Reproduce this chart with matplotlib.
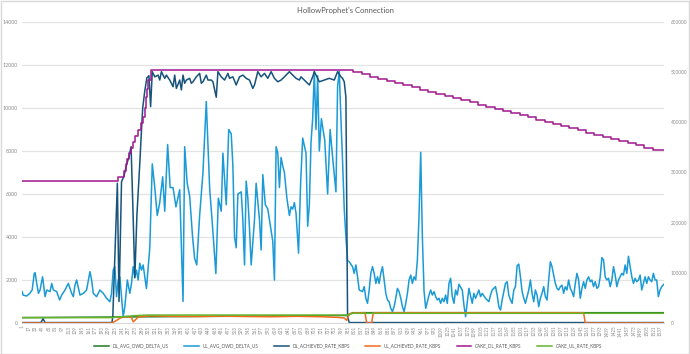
import numpy as np
import matplotlib.pyplot as plt
from matplotlib.patches import Rectangle

N = 1545  # number of samples (categories 1..N)

# ---- series data (index, value) ----
cake_dl_idx = [0, 231, 245, 250, 253, 257, 263, 267, 272, 278, 287, 291, 295, 299, 301, 303, 309,
               797, 817, 837, 857, 877, 897, 917, 937, 957, 977, 997, 1017, 1037, 1057, 1077, 1097,
               1117, 1137, 1157, 1177, 1197, 1217, 1237, 1257, 1277, 1297, 1317, 1337, 1357, 1377,
               1397, 1417, 1437, 1457, 1477, 1497, 1517, 1544]
cake_dl_val = [6600, 6800, 7050, 7400, 7650, 7900, 8150, 8400, 8700, 8970, 9300, 9600, 10000, 10500,
               10900, 11300, 11780,
               11660, 11560, 11460, 11360, 11260, 11160, 11060, 10960, 10860, 10760, 10660, 10560,
               10460, 10360, 10260, 10160, 10060, 9960, 9860, 9760, 9660, 9560, 9460, 9360, 9260,
               9160, 9060, 8960, 8860, 8760, 8660, 8560, 8460, 8360, 8260, 8160, 8060, 8060]

dl_rate_idx = [0, 45, 50, 55, 216, 218, 229, 233, 239, 245, 251, 257, 262, 267, 271, 276, 283, 287,
               290, 295, 300, 305, 309, 313, 319, 327, 331, 335, 343, 347, 355, 359, 363, 367, 371,
               379, 383, 387, 391, 395, 403, 407, 411, 419, 427, 431, 435, 443, 447, 455, 459, 467,
               471, 479, 487, 495, 499, 507, 515, 523, 531, 539, 547, 555, 559, 567, 575, 583, 591,
               599, 607, 615, 623, 631, 643, 651, 659, 667, 671, 683, 691, 699, 703, 715, 727, 739,
               751, 759, 767, 771, 775, 779, 783, 787, 1544]
dl_rate_val = [20, 20, 200, 20, 20, 300, 6500, 1000, 6570, 6840, 7350, 7730, 8200, 4940, 2100, 5000,
               7440, 8970, 10000, 10800, 11400, 11500, 10060, 11690, 11450, 11530, 11300, 11690,
               11380, 11530, 11300, 11150, 10990, 11530, 10910, 11300, 10840, 11530, 11150, 11300,
               11380, 11150, 11220, 11450, 11610, 11150, 11220, 11530, 11300, 11300, 11220, 10500,
               11690, 11450, 11300, 11610, 11380, 11450, 11070, 11450, 11530, 11380, 11300, 10910,
               11070, 11690, 11450, 11610, 11380, 11690, 11380, 11220, 11300, 11450, 11690, 11530,
               11380, 11300, 11450, 11220, 11070, 11450, 11690, 11220, 11300, 11380, 11300, 11690,
               11450, 11380, 11220, 10500, 300, 20, 20]

ul_owd_idx = [0, 2, 11, 18, 24, 29, 31, 35, 39, 43, 49, 55, 59, 67, 71, 75, 83, 90, 95, 103, 111,
              115, 119, 123, 127, 131, 139, 147, 155, 163, 167, 171, 179, 187, 195, 203, 211, 215,
              219, 223, 227, 231, 235, 243, 247, 253, 259, 263, 267, 271, 275, 279, 283, 287, 291,
              299, 307, 313, 319, 325, 331, 338, 343, 350, 356, 363, 370, 379, 387, 391, 397, 403,
              410, 415, 420, 427, 435, 443, 451, 458, 466, 472, 479, 483, 491, 497, 503, 507, 511,
              515, 519, 527, 531, 535, 539, 543, 547, 551, 559, 563, 571, 575, 579, 585, 591, 595,
              603, 607, 611, 615, 619, 623, 627, 631, 637, 643, 647, 651, 655, 659, 665, 670, 675,
              683, 687, 691, 695, 699, 703, 707, 711, 715, 720, 728, 735, 741, 748, 755, 759, 763,
              767, 771, 775, 779, 783, 787, 795, 799, 803, 807, 811, 819, 823, 827, 831, 835, 839,
              843, 847, 851, 855, 859, 863, 867, 871, 875, 879, 883, 887, 891, 895, 899, 903, 907,
              911, 915, 919, 923, 927, 931, 935, 939, 943, 947, 951, 955, 959, 963, 967, 971, 979,
              983, 987, 991, 995, 999, 1003, 1007, 1011, 1015, 1019, 1023, 1027, 1031, 1035, 1039,
              1043, 1047, 1051, 1059, 1063, 1067, 1075, 1083, 1087, 1091, 1099, 1103, 1107, 1115,
              1123, 1127, 1131, 1139, 1143, 1147, 1151, 1155, 1163, 1167, 1171, 1175, 1179, 1183,
              1187, 1191, 1195, 1199, 1203, 1207, 1211, 1215, 1219, 1223, 1227, 1231, 1235, 1239,
              1243, 1247, 1251, 1255, 1259, 1263, 1267, 1271, 1275, 1279, 1283, 1287, 1291, 1295,
              1299, 1303, 1307, 1311, 1315, 1319, 1323, 1327, 1331, 1335, 1339, 1343, 1347, 1351,
              1355, 1359, 1363, 1367, 1371, 1375, 1379, 1383, 1387, 1391, 1395, 1399, 1403, 1407,
              1411, 1415, 1419, 1423, 1427, 1431, 1435, 1439, 1443, 1447, 1451, 1455, 1459, 1463,
              1467, 1471, 1475, 1479, 1483, 1487, 1491, 1495, 1499, 1503, 1507, 1511, 1515, 1519,
              1523, 1527, 1531, 1535, 1539, 1544]
ul_owd_val = [1460, 1300, 1255, 1380, 1535, 2310, 2340, 1840, 1380, 1535, 2150, 1225, 1535, 1460,
              1840, 1535, 1460, 1070, 1300, 1535, 1840, 1610, 1380, 1225, 1760, 2000, 1300, 1380,
              1535, 2390, 2000, 1380, 1225, 1535, 1380, 1150, 990, 1380, 2460, 2620, 1225, 2000,
              2150, 290, 760, 2000, 1380, 1840, 2620, 2150, 2460, 2000, 2780, 2460, 2700, 1600,
              3500, 7400, 6300, 5000, 5600, 6800, 5200, 8300, 6300, 6300, 5400, 6200, 1000, 8200,
              6500, 5900, 4000, 3000, 2700, 5000, 7000, 10300, 6300, 4500, 2300, 5800, 5200, 7900,
              5500, 9000, 8800, 7300, 4000, 3500, 6000, 6100, 4800, 2700, 6600, 5800, 4400, 2700,
              4800, 6500, 4800, 3400, 6900, 5500, 5300, 4800, 3800, 2000, 8200, 7900, 6300, 7700,
              7300, 7000, 5800, 5000, 5400, 5300, 5600, 5100, 3250, 6500, 8600, 7900, 4500, 5500,
              8400, 9500, 11700, 9000, 11500, 8000, 9500, 8500, 6000, 9000, 7500, 6100, 11000,
              11700, 9500, 7500, 5300, 4000, 2900, 2850, 2620, 2310, 2700, 2150, 1535, 1460, 1690,
              1150, 915, 1535, 2310, 2620, 2310, 1840, 2150, 1840, 2310, 2620, 2000, 1380, 1070,
              990, 680, 530, 760, 1150, 1610, 1460, 1150, 760, 530, 915, 1380, 2000, 2230, 1840,
              2150, 2000, 2930, 5000, 7940, 4000, 1500, 680, 1300, 1535, 1300, 1460, 1225, 1070,
              1150, 915, 1150, 990, 1300, 915, 1840, 2080, 1225, 915, 1535, 1300, 1800, 1535, 840,
              295, 1610, 915, 1380, 1150, 1535, 1225, 1380, 1150, 990, 1300, 1535, 1690, 1300, 760,
              605, 1070, 1840, 1920, 1300, 1070, 915, 1535, 1690, 2660, 2740, 2150, 1460, 1150, 915,
              1225, 1535, 2000, 1380, 990, 1535, 1300, 760, 1150, 1380, 1690, 1225, 1070, 2000,
              2850, 2620, 2230, 1840, 1610, 1535, 1690, 1760, 1380, 1690, 1535, 2000, 1610, 1460,
              1225, 1840, 2310, 2000, 1150, 1610, 1920, 1610, 2000, 2150, 1920, 2000, 1690, 1920,
              1610, 1690, 2150, 3040, 2930, 2150, 2000, 2080, 1690, 2000, 2620, 2230, 1690, 2000,
              2150, 2310, 2230, 2700, 2310, 3100, 2620, 2150, 1840, 2080, 1920, 2000, 2230, 1535,
              1840, 2150, 1840, 2150, 2000, 1920, 2310, 2000, 2000, 1225, 1535, 1690, 1800]

ul_rate_idx = [0, 216, 227, 235, 243, 255, 263, 267, 271, 279, 291, 307, 360, 420, 480, 540, 600,
               660, 720, 760, 775, 781, 787, 800, 825, 829, 841, 845, 1351, 1355, 1544]
ul_rate_val = [0, 0, 120, 220, 280, 300, 250, 60, 120, 280, 300, 330, 310, 300, 320, 300, 290,
               310, 290, 260, 230, 120, 430, 470, 480, 0, 0, 480, 480, 0, 0]

cake_ul_idx = [0, 215, 240, 270, 300, 783, 795, 1544]
cake_ul_val = [250, 250, 290, 340, 370, 370, 450, 450]

dl_owd_idx = [0, 783, 795, 1490, 1544]
dl_owd_val = [250, 350, 480, 480, 480]

series_names = ['DL_AVG_OWD_DELTA_US', 'UL_AVG_OWD_DELTA_US', 'DL_ACHIEVED_RATE_KBPS',
                'UL_ACHIEVED_RATE_KBPS', 'CAKE_DL_RATE_KBPS', 'CAKE_UL_RATE_KBPS']
series_colors = ['#1e7b22', '#1a9ad6', '#17537a', '#f26b1d', '#a0188f', '#66b32e']

left_ticks = [0, 2000, 4000, 6000, 8000, 10000, 12000, 14000]
right_ticks = [0, 100000, 200000, 300000, 400000, 500000, 600000]
x_labels = [str(i + 1) for i in range(0, N, 16)]

plt.rcParams['font.family'] = ['Lato', 'DejaVu Sans']

fig = plt.figure(figsize=(6.9, 3.54), dpi=100)
fig.patches.append(Rectangle((0.001, 0.001), 0.998, 0.997, transform=fig.transFigure,
                             fill=False, edgecolor='#d9d9d9', linewidth=1.0))
ax = fig.add_axes([22 / 690, 1 - 323 / 354, (664 - 22) / 690, (323 - 22) / 354])
ax2 = ax.twinx()

ax.plot(dl_owd_idx, dl_owd_val, color=series_colors[0], lw=1.1, label=series_names[0])
ax.plot(ul_owd_idx, ul_owd_val, color=series_colors[1], lw=1.1, label=series_names[1])
ax.plot(dl_rate_idx, dl_rate_val, color=series_colors[2], lw=1.1, label=series_names[2])
ax.plot(ul_rate_idx, ul_rate_val, color=series_colors[3], lw=1.1, label=series_names[3])
ax.plot(cake_dl_idx, cake_dl_val, color=series_colors[4], lw=1.1, drawstyle='steps-post',
        label=series_names[4])
ax.plot(cake_ul_idx, cake_ul_val, color=series_colors[5], lw=1.1, label=series_names[5])

ax.set_xlim(-0.5, N - 0.5)
ax.set_ylim(0, 14000)
ax.set_yticks(left_ticks)
ax.set_yticklabels([str(v) for v in left_ticks])
ax.set_xticks(list(range(0, N, 16)))
ax.set_xticklabels(x_labels, rotation=90, fontsize=3.3, color='#8c8c8c')
ax.tick_params(axis='y', labelsize=3.8, colors='#8c8c8c', length=0, pad=3)
ax.tick_params(axis='x', length=0, pad=2)
ax.grid(axis='y', color='#e3e3e3', lw=0.9)
ax.set_axisbelow(True)
for s in ax.spines.values():
    s.set_visible(False)
ax.spines['bottom'].set_visible(True)
ax.spines['bottom'].set_color('#d9d9d9')

ax2.set_ylim(0, 600000)
ax2.set_yticks(right_ticks)
ax2.set_yticklabels([str(v) for v in right_ticks])
ax2.tick_params(axis='y', labelsize=3.4, colors='#8c8c8c', length=0, pad=5)
for s in ax2.spines.values():
    s.set_visible(False)

fig.text(345 / 690, 1 - 10 / 354, "HollowProphet's Connection", ha='center', va='center',
         fontsize=5.5, color='#595959')

fig.legend(*ax.get_legend_handles_labels(), loc='center', bbox_to_anchor=(348 / 690, 1 - 346 / 354),
           ncol=6, frameon=False, fontsize=3.3, handlelength=3.2, handletextpad=0.8,
           columnspacing=3.4, labelcolor='#595959')

fig.savefig('out.png', dpi=100)
